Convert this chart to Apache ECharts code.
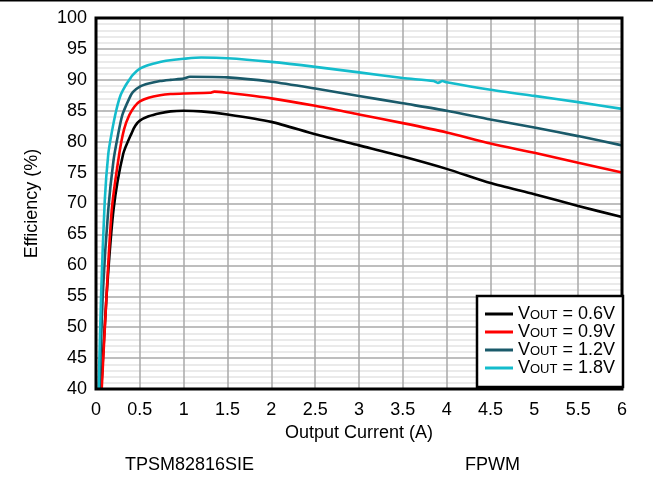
<!DOCTYPE html>
<html>
<head>
<meta charset="utf-8">
<script src="https://cdn.jsdelivr.net/npm/echarts@6/dist/echarts.min.js"></script>
<style>
html,body{margin:0;padding:0;background:#fff;}
#chart{width:653px;height:481px;}
</style>
</head>
<body>
<div id="chart"></div>
<script>
// Output current (A) and efficiency (%) per output voltage
const i06 = [0.06,0.12,0.2,0.31,0.41,0.45,0.5,0.6,0.73,0.85,1.0,1.2,1.5,2.0,2.5,3.0,3.5,4.0,4.5,5.0,5.5,6.0];
const eff06 = [40,55,69,78,81.5,82.6,83.4,84.1,84.6,84.9,85.0,84.9,84.4,83.2,81.2,79.4,77.6,75.6,73.3,71.5,69.6,67.8];

const i09 = [0.065,0.12,0.18,0.265,0.32,0.38,0.44,0.5,0.6,0.73,0.85,1.0,1.3,1.35,1.5,2.0,2.5,3.0,3.5,4.0,4.5,5.0,5.5,6.0];
const eff09 = [40,55,69,78,82,84.3,85.7,86.5,87.1,87.5,87.7,87.8,87.9,88.1,87.9,87.0,85.8,84.4,83.0,81.5,79.7,78.2,76.6,75.0];

const i12 = [0.04,0.08,0.14,0.2,0.25,0.3,0.38,0.42,0.5,0.6,0.73,0.85,1.0,1.07,1.5,2.0,2.5,3.0,3.5,4.0,4.5,5.0,5.5,6.0];
const eff12 = [40,56,69,77,81,84.3,87.0,88.0,88.9,89.4,89.8,90.0,90.2,90.5,90.4,89.7,88.6,87.4,86.2,85.0,83.6,82.3,80.9,79.4];

const i18 = [0.03,0.06,0.10,0.14,0.18,0.23,0.28,0.33,0.38,0.42,0.5,0.6,0.73,0.8,1.0,1.2,1.5,2.0,2.5,3.0,3.5,3.85,3.9,3.95,4.0,4.5,5.0,5.5,6.0];
const eff18 = [40,56,70.5,78,81.5,85,87.5,88.9,90.0,90.8,91.8,92.4,92.9,93.1,93.4,93.6,93.5,92.9,92.1,91.2,90.3,89.8,89.5,89.8,89.6,88.4,87.4,86.4,85.3];

const seriesNames = ['0.6V','0.9V','1.2V','1.8V'];
const seriesColors = ['#000000','#ff0000','#1a5a6a','#14bccc'];
const seriesX = [i06,i09,i12,i18];
const seriesY = [eff06,eff09,eff12,eff18];

const xTitle = 'Output Current (A)';
const yTitle = 'Efficiency (%)';
const deviceLabel = 'TPSM82816SIE';
const modeLabel = 'FPWM';

const FONT = '"Liberation Sans", Arial, sans-serif';
const chart = echarts.init(document.getElementById('chart'), null, {renderer:'canvas'});

const series = seriesNames.map((n, k) => ({
  name: n,
  type: 'line',
  data: seriesX[k].map((x, j) => [x, seriesY[k][j]]),
  symbol: 'none',
  showSymbol: false,
  smooth: 0.25,
  clip: true,
  lineStyle: {color: seriesColors[k], width: 2.6},
  itemStyle: {color: seriesColors[k]},
  z: 2
}));

chart.setOption({
  animation: false,
  backgroundColor: '#fff',
  grid: {left: 96, right: 31, top: 18, bottom: 92, containLabel: false},
  xAxis: {
    type: 'value', min: 0, max: 6, interval: 0.5,
    name: xTitle, nameLocation: 'middle', nameGap: 34,
    nameTextStyle: {fontFamily: FONT, fontSize: 18, color: '#000'},
    axisLine: {show: false}, axisTick: {show: false},
    axisLabel: {fontFamily: FONT, fontSize: 18, color: '#000', margin: 12},
    splitLine: {show: true, lineStyle: {color: '#a8a8a8', width: 1.5}}
  },
  yAxis: {
    type: 'value', min: 40, max: 100, interval: 5,
    name: yTitle, nameLocation: 'middle', nameGap: 55, nameRotate: 90,
    nameTextStyle: {fontFamily: FONT, fontSize: 18, color: '#000'},
    axisLine: {show: false}, axisTick: {show: false},
    axisLabel: {fontFamily: FONT, fontSize: 18, color: '#000', margin: 9},
    splitLine: {show: true, lineStyle: {color: '#a8a8a8', width: 1.5}},
    minorTick: {show: false, splitNumber: 5},
    minorSplitLine: {show: true, lineStyle: {color: '#e4e4e4', width: 1.5}}
  },
  legend: {
    orient: 'vertical', left: 477, top: 296,
    padding: [9, 8, 10, 8],
    backgroundColor: '#fff', borderColor: '#000', borderWidth: 2.5,
    icon: 'rect',
    itemWidth: 28, itemHeight: 3, itemGap: 0,
    z: 10,
    formatter: n => '{v|V}{s|OUT}{v| = ' + n + '}',
    textStyle: {
      fontFamily: FONT, color: '#000',
      rich: {
        v: {fontFamily: FONT, fontSize: 18, color: '#000', lineHeight: 16},
        s: {fontFamily: FONT, fontSize: 13, color: '#000', lineHeight: 8, verticalAlign: 'bottom'}
      }
    },
    data: seriesNames
  },
  graphic: [
    {type: 'rect', shape: {x: 0, y: 0, width: 653, height: 1.5}, style: {fill: '#000'}, z: 5},
    {type: 'rect', shape: {x: 96, y: 18, width: 526, height: 371}, style: {fill: null, stroke: '#000', lineWidth: 3}, z: 3},
    {type: 'text', left: 125, top: 456, style: {text: deviceLabel, font: '18px ' + FONT, fill: '#000'}},
    {type: 'text', left: 465, top: 456, style: {text: modeLabel, font: '18px ' + FONT, fill: '#000'}}
  ],
  series: series
});
</script>
</body>
</html>
